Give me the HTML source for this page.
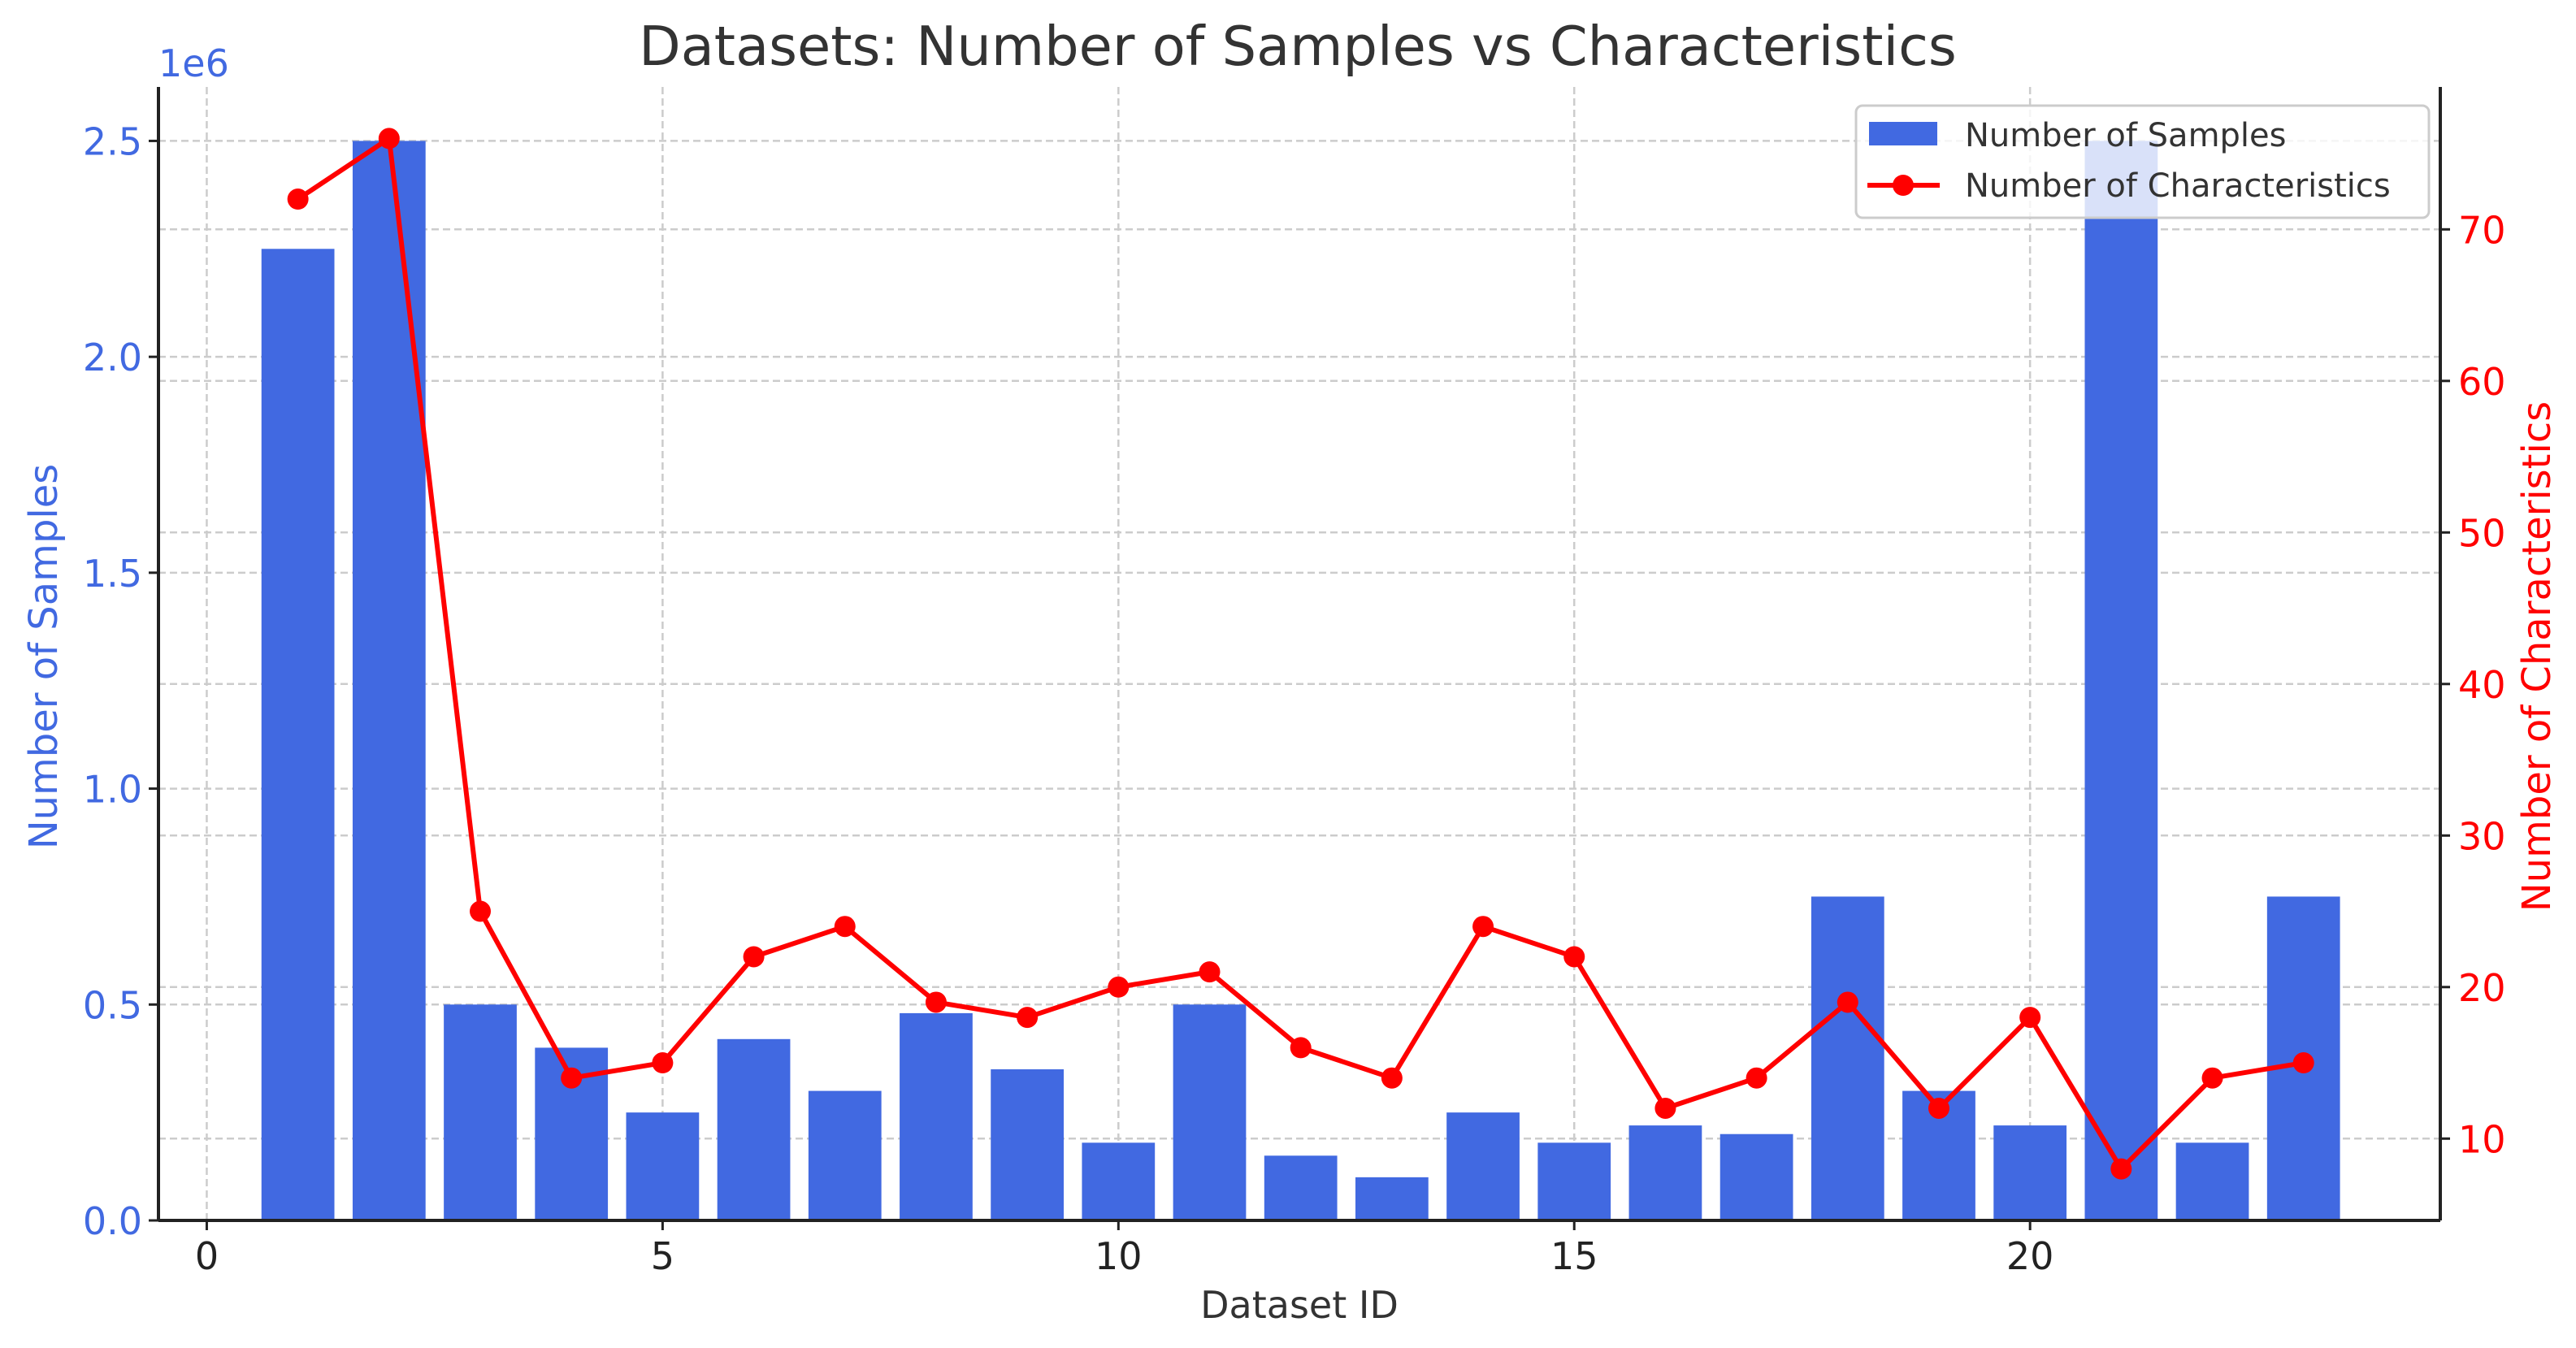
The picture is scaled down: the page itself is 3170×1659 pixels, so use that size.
<!DOCTYPE html>
<html><head><meta charset="utf-8"><style>
html,body{margin:0;padding:0;background:#fff;}
svg{display:block;font-family:"DejaVu Sans","Liberation Sans",sans-serif;}
</style></head><body>
<svg id="chart" width="3170" height="1659" viewBox="0 0 3170 1659" xmlns="http://www.w3.org/2000/svg">
<rect width="3170" height="1659" fill="#fff"/>
<g id="grid"></g><g id="bars"></g><g id="line"></g><g id="axes"></g>
<text x="1597" y="80" text-anchor="middle" font-size="67" fill="#333">Datasets: Number of Samples vs Characteristics</text>
<text x="195" y="94" font-size="46" fill="#4169e1">1e6</text>
<text transform="translate(70,808) rotate(-90)" text-anchor="middle" font-size="48" fill="#4169e1">Number of Samples</text>
<text transform="translate(3138,808) rotate(-90)" text-anchor="middle" font-size="48" fill="#ff0000">Number of Characteristics</text>
<text x="1599" y="1622" text-anchor="middle" font-size="46" fill="#333">Dataset ID</text>
<g>
<rect x="2284" y="130" width="705" height="138" rx="8" fill="#fff" fill-opacity="0.8" stroke="#ccc" stroke-width="3"/>
<rect x="2300" y="150" width="84" height="29" fill="#4169e1"/>
<text x="2418" y="180" font-size="40" fill="#333">Number of Samples</text>
<line x1="2298" y1="228" x2="2387" y2="228" stroke="#ff0000" stroke-width="6"/>
<circle cx="2342" cy="228" r="13" fill="#ff0000"/>
<text x="2418" y="242" font-size="40" fill="#333">Number of Characteristics</text>
</g>
</svg>
<script>
const ids = [1,2,3,4,5,6,7,8,9,10,11,12,13,14,15,16,17,18,19,20,21,22,23];
const samples = [2250000,2500000,500000,400000,250000,420000,300000,480000,350000,180000,500000,150000,100000,250000,180000,220000,200000,750000,300000,220000,2500000,180000,750000];
const characteristics = [72,76,25,14,15,22,24,19,18,20,21,16,14,24,22,12,14,19,12,18,8,14,15];
const xTicks = [0,5,10,15,20];
const yTicks = [0,0.5,1.0,1.5,2.0,2.5];
const yTickLabels = ["0.0","0.5","1.0","1.5","2.0","2.5"];
const y2Ticks = [10,20,30,40,50,60,70];

const NS="http://www.w3.org/2000/svg";
const L=195,R=3003,T=107,B=1502;
const xMin=-0.53,xMax=24.5,yMax=2.625e6,y2Min=4.6,y2Max=79.4;
const xs=v=>L+(v-xMin)/(xMax-xMin)*(R-L);
const ys=v=>B-v/yMax*(B-T);
const y2s=v=>B-(v-y2Min)/(y2Max-y2Min)*(B-T);
function mk(tag,attrs,parent){const e=document.createElementNS(NS,tag);for(const k in attrs)e.setAttribute(k,attrs[k]);document.getElementById(parent).appendChild(e);return e;}

xTicks.forEach(t=>{
  const g=mk('line',{x1:xs(t),x2:xs(t),y1:T,y2:B,stroke:'#ccc','stroke-width':2.5,'stroke-dasharray':'9,5'},'grid');
  
  
  mk('line',{x1:xs(t),x2:xs(t),y1:B,y2:B+12,stroke:'#222','stroke-width':3},'axes');
  const tx=mk('text',{x:xs(t),y:B+60,'text-anchor':'middle','font-size':46,fill:'#222'},'axes');
  tx.textContent=t;
  
  
});
yTicks.forEach((t,i)=>{
  const y=ys(t*1e6);
  const g=mk('line',{x1:L,x2:R,y1:y,y2:y,stroke:'#ccc','stroke-width':2.5,'stroke-dasharray':'9,5'},'grid');
  
  
  mk('line',{x1:L-12,x2:L,y1:y,y2:y,stroke:'#222','stroke-width':3},'axes');
  const tx=mk('text',{x:L-20,y:y+17,'text-anchor':'end','font-size':46,fill:'#4169e1'},'axes');
  tx.textContent=yTickLabels[i];
  
  
});
y2Ticks.forEach(t=>{
  const y=y2s(t);
  const g=mk('line',{x1:L,x2:R,y1:y,y2:y,stroke:'#ccc','stroke-width':2.5,'stroke-dasharray':'9,5'},'grid');
  
  
  mk('line',{x1:R,x2:R+12,y1:y,y2:y,stroke:'#222','stroke-width':3},'axes');
  const tx=mk('text',{x:R+22,y:y+17,'text-anchor':'start','font-size':46,fill:'#ff0000'},'axes');
  tx.textContent=t;
  
  
});
ids.forEach((d,i)=>{
  const x0=xs(d-0.4),x1=xs(d+0.4);
  const b=mk('rect',{x:x0,y:ys(samples[i]),width:x1-x0,height:B-ys(samples[i]),fill:'#4169e1'},'bars');
  
  
});
const pts=ids.map((d,i)=>xs(d)+','+y2s(characteristics[i])).join(' ');
const pl=mk('polyline',{points:pts,fill:'none',stroke:'#ff0000','stroke-width':6,'stroke-linejoin':'round'},'line');


ids.forEach((d,i)=>{
  const c=mk('circle',{cx:xs(d),cy:y2s(characteristics[i]),r:13,fill:'#ff0000'},'line');
  
  
});
const sp=[[L,T,L,B],[L,B,R,B],[R,T,R,B]];
sp.forEach(s=>{
  const l=mk('line',{x1:s[0],y1:s[1],x2:s[2],y2:s[3],stroke:'#222','stroke-width':4},'axes');
  
  
});
</script>
</body></html>
